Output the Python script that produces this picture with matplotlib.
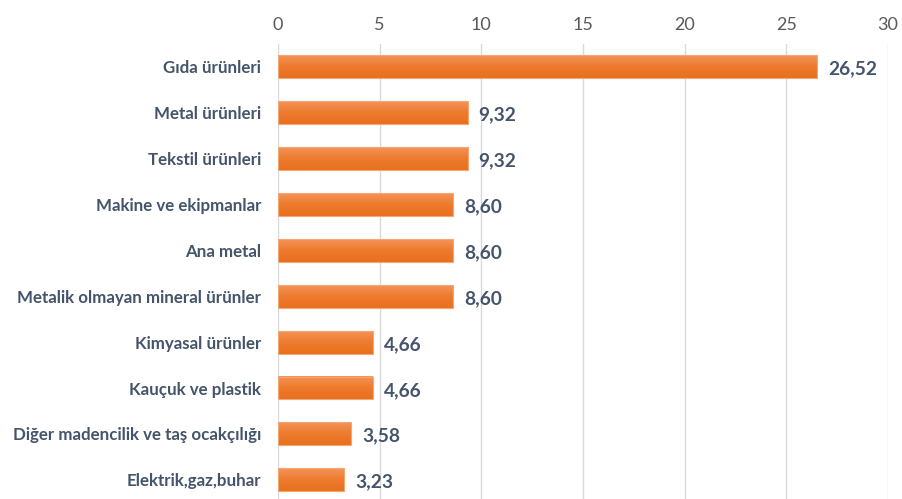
import matplotlib.pyplot as plt
import numpy as np
from matplotlib.colors import LinearSegmentedColormap

categories = [
    "Gıda ürünleri",
    "Metal ürünleri",
    "Tekstil ürünleri",
    "Makine ve ekipmanlar",
    "Ana metal",
    "Metalik olmayan mineral ürünler",
    "Kimyasal ürünler",
    "Kauçuk ve plastik",
    "Diğer madencilik ve taş ocakçılığı",
    "Elektrik,gaz,buhar",
]
values = [26.52, 9.32, 9.32, 8.60, 8.60, 8.60, 4.66, 4.66, 3.58, 3.23]
x_ticks = [0, 5, 10, 15, 20, 25, 30]

plt.rcParams["font.family"] = ["Lato", "DejaVu Sans"]
label_color = "#44546A"

fig = plt.figure(figsize=(9.02, 4.99), dpi=100)
ax = fig.add_axes([0.3082, 0.0, 0.6763, 0.9118])

y = np.arange(len(categories))
bars = ax.barh(y, values, height=0.5, color="none", edgecolor="#F5A672",
               linewidth=0.8, zorder=4)

# soft vertical gradient inside each bar
grad = LinearSegmentedColormap.from_list("g", ["#F39459", "#EE7A2D", "#E8701F"])
ramp = np.linspace(0, 1, 64).reshape(-1, 1)
for b in bars:
    x0, y0 = b.get_x(), b.get_y()
    w, h = b.get_width(), b.get_height()
    ax.imshow(ramp, cmap=grad, aspect="auto", origin="upper",
              extent=(x0, x0 + w, y0 + h, y0), zorder=3)

for yi, v in zip(y, values):
    ax.text(v + 0.55, yi + 0.05, f"{v:.2f}".replace(".", ","), va="center",
            ha="left", fontsize=13.8, fontweight="bold", color=label_color)

ax.set_xlim(0, 30)
ax.set_ylim(9.42, -0.5)
ax.set_xticks(x_ticks)
ax.xaxis.tick_top()
ax.tick_params(axis="x", length=0, pad=8, labelsize=13, labelcolor="#595959")
ax.set_yticks(y)
ax.set_yticklabels(categories, fontsize=12.2, fontweight="bold", color=label_color)
ax.tick_params(axis="y", length=0, pad=12)
ax.grid(axis="x", color="#D9D9D9", linewidth=1, zorder=0)
for s in ax.spines.values():
    s.set_visible(False)

fig.savefig("out.png", dpi=100)
